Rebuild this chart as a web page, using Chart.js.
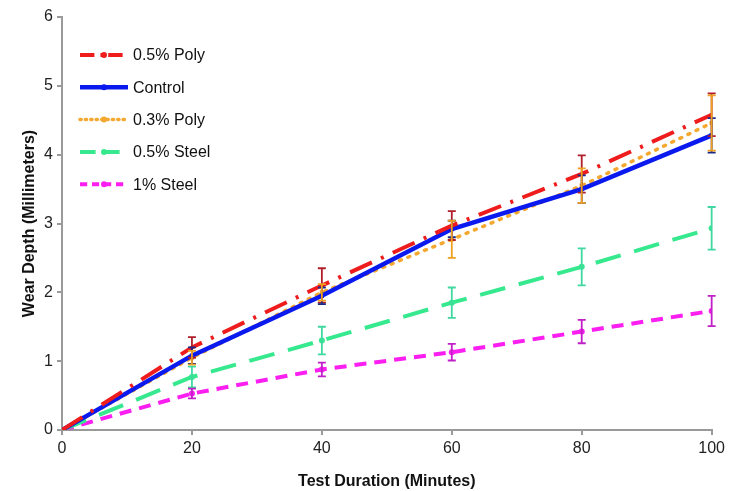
<!DOCTYPE html>
<html>
<head>
<meta charset="utf-8">
<script src="https://cdn.jsdelivr.net/npm/chart.js@4.4.0/dist/chart.umd.min.js"></script>
<style>
  html, body { margin: 0; padding: 0; background: #fff; }
  #wrap { width: 729px; height: 491px; }
</style>
</head>
<body>
<div id="wrap"><canvas id="myChart" width="729" height="491"></canvas></div>
<script>
// ---- datos
const minutos = [0, 20, 40, 60, 80, 100];

const poly05 = [0, 1.20, 2.10, 2.97, 3.72, 4.58];
const poly05Err = [0, 0.15, 0.25, 0.21, 0.27, 0.31];

const control = [0, 1.08, 1.95, 2.92, 3.50, 4.28];
const controlErr = [0, 0.12, 0.12, 0.12, 0.20, 0.25];

const poly03 = [0, 1.05, 2.00, 2.77, 3.55, 4.46];
const poly03Err = [0, 0.10, 0.12, 0.27, 0.25, 0.40];

const steel05 = [0, 0.77, 1.30, 1.85, 2.37, 2.93];
const steel05Err = [0, 0.15, 0.20, 0.22, 0.27, 0.31];

const steel1 = [0, 0.53, 0.88, 1.13, 1.43, 1.73];
const steel1Err = [0, 0.07, 0.10, 0.12, 0.17, 0.22];

const yTicks = [0, 1, 2, 3, 4, 5, 6];

const FONT = "'Liberation Sans', Arial, sans-serif";

const toPoints = (vals) => minutos.map((m, i) => ({ x: m, y: vals[i] }));

const series = [
    { label: "0.5% Poly", data: poly05, err: poly05Err, color: "#ee1c1c", errColor: "#b01e2a", dash: [24, 10, 3, 10], width: 4, point: "triangle" },
    { label: "Control", data: control, err: controlErr, color: "#0a1aee", errColor: "#1a2a88", dash: [], width: 4.5, point: "rect" },
    { label: "0.3% Poly", data: poly03, err: poly03Err, color: "#f5a830", errColor: "#f0a020", dash: [2, 7], width: 3.5, point: "rect" },
    { label: "0.5% Steel", data: steel05, err: steel05Err, color: "#36e88e", errColor: "#40d8a0", dash: [26, 14], width: 4, point: "circle" },
    { label: "1% Steel", data: steel1, err: steel1Err, color: "#fa1ef0", errColor: "#c020c8", dash: [12, 8], width: 4, point: "circle" }
];

// barras de error
const errorBars = {
    id: "errorBars",
    afterDatasetsDraw(chart) {
        const c = chart.ctx;
        const ys = chart.scales.y;
        chart.data.datasets.forEach((ds, di) => {
            const meta = chart.getDatasetMeta(di);
            c.save();
            c.strokeStyle = ds.errColor;
            c.lineWidth = 1.8;
            c.setLineDash([]);
            meta.data.forEach((pt, i) => {
                const e = ds.err[i];
                if (!e) return;
                const v = ds.data[i].y;
                const yTop = ys.getPixelForValue(v + e);
                const yBot = ys.getPixelForValue(v - e);
                c.beginPath();
                c.moveTo(pt.x, yTop); c.lineTo(pt.x, yBot);
                c.moveTo(pt.x - 4, yTop); c.lineTo(pt.x + 4, yTop);
                c.moveTo(pt.x - 4, yBot); c.lineTo(pt.x + 4, yBot);
                c.stroke();
            });
            c.restore();
        });
    }
};

// leyenda dentro del área
const legendBox = {
    id: "legendBox",
    afterDraw(chart) {
        const c = chart.ctx;
        c.save();
        series.forEach((s, i) => {
            const y = 55 + i * 32.3;
            c.strokeStyle = s.color;
            c.lineWidth = s.width;
            c.lineCap = s.point === "rect" && s.dash.length ? "round" : "butt";
            c.setLineDash(s.dash.length ? s.dash.map(d => d * 0.6) : []);
            c.beginPath();
            c.moveTo(80, y); c.lineTo(128, y);
            c.stroke();
            c.setLineDash([]);
            c.fillStyle = s.color;
            c.beginPath();
            c.arc(104, y, 3, 0, Math.PI * 2);
            c.fill();
            c.fillStyle = "#111";
            c.font = "16px " + FONT;
            c.textBaseline = "middle";
            c.fillText(s.label, 133, y + 1);
        });
        c.restore();
    }
};

const ctx = document.getElementById("myChart");

new Chart(ctx, {
    type: "line",
    data: {
        datasets: series.map(s => ({
            label: s.label,
            data: toPoints(s.data),
            err: s.err,
            errColor: s.errColor,
            borderColor: s.color,
            backgroundColor: s.color,
            borderWidth: s.width,
            borderDash: s.dash,
            borderCapStyle: s.dash.length && s.width < 4 ? "round" : "butt",
            pointStyle: s.point,
            pointRadius: 3,
            pointBorderWidth: 0,
            tension: 0,
            fill: false
        }))
    },
    options: {
        responsive: false,
        animation: false,
        layout: { padding: { top: 17, right: 16, left: 16, bottom: 0 } },
        plugins: {
            legend: { display: false },
            tooltip: { enabled: false }
        },
        scales: {
            x: {
                type: "linear",
                min: 0,
                max: 100,
                afterFit(scale) { scale.height = 61; },
                ticks: {
                    stepSize: 20,
                    color: "#222",
                    padding: 4,
                    font: { family: FONT, size: 16 }
                },
                grid: { display: true, drawOnChartArea: false, drawTicks: true, tickLength: 5, color: "#9a9a9a", lineWidth: 2 },
                border: { display: true, color: "#9a9a9a", width: 2 },
                title: {
                    display: true,
                    text: "Test Duration (Minutes)",
                    color: "#111",
                    font: { family: FONT, size: 16, weight: "bold" },
                    padding: { top: 15, bottom: 0 }
                }
            },
            y: {
                min: 0,
                max: 6,
                afterFit(scale) { scale.width = 46; },
                afterBuildTicks(scale) { scale.ticks = yTicks.map(v => ({ value: v })); },
                ticks: {
                    color: "#222",
                    padding: 4,
                    font: { family: FONT, size: 16 }
                },
                grid: { display: true, drawOnChartArea: false, drawTicks: true, tickLength: 5, color: "#9a9a9a", lineWidth: 2 },
                border: { display: true, color: "#9a9a9a", width: 2 },
                title: {
                    display: true,
                    text: "Wear Depth (Millimeters)",
                    color: "#111",
                    font: { family: FONT, size: 16, weight: "bold" },
                    padding: { bottom: 2 }
                }
            }
        }
    },
    plugins: [errorBars, legendBox]
});
</script>
</body>
</html>
